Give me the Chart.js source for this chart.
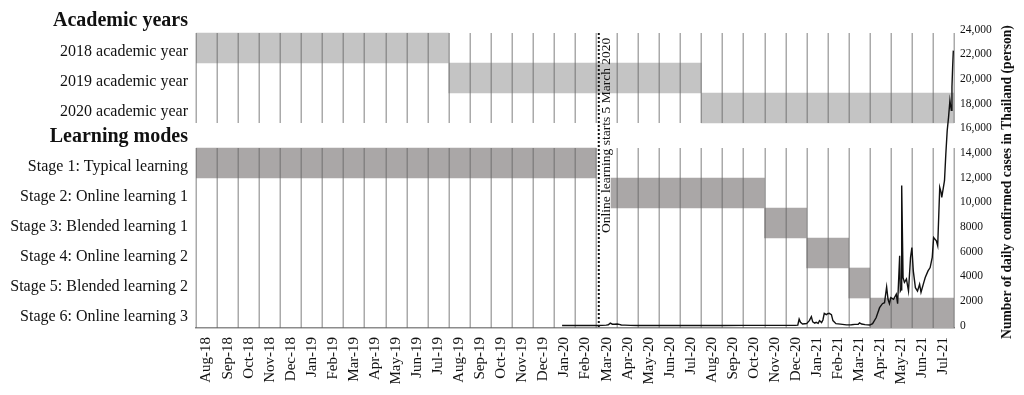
<!DOCTYPE html>
<html>
<head>
<meta charset="utf-8">
<script src="https://cdn.jsdelivr.net/npm/chart.js@4.4.1/dist/chart.umd.min.js"></script>
<style>
  html, body { margin: 0; padding: 0; background: #fff; }
  #wrap { width: 1024px; height: 395px; }
</style>
</head>
<body>
<div id="wrap"><canvas id="chart" width="1024" height="395"></canvas></div>
<script>
// ---- data ----
const months = ['Aug-18','Sep-18','Oct-18','Nov-18','Dec-18','Jan-19','Feb-19','Mar-19','Apr-19','May-19','Jun-19','Jul-19',
  'Aug-19','Sep-19','Oct-19','Nov-19','Dec-19','Jan-20','Feb-20','Mar-20','Apr-20','May-20','Jun-20','Jul-20',
  'Aug-20','Sep-20','Oct-20','Nov-20','Dec-20','Jan-21','Feb-21','Mar-21','Apr-21','May-21','Jun-21','Jul-21'];

const groupTitles = ['Academic years', 'Learning modes'];

const academicRows  = ['2018 academic year', '2019 academic year', '2020 academic year'];
const academicStart = ['2018-08-01', '2019-08-01', '2020-08-01'];
const academicEnd   = ['2019-08-01', '2020-08-01', '2021-08-01'];

const stageRows  = ['Stage 1: Typical learning', 'Stage 2: Online learning 1', 'Stage 3: Blended learning 1',
  'Stage 4: Online learning 2', 'Stage 5: Blended learning 2', 'Stage 6: Online learning 3'];
const stageStart = ['2018-08-01', '2020-03-23', '2020-11-01', '2021-01-01', '2021-03-01', '2021-04-01'];
const stageEnd   = ['2020-03-01', '2020-11-01', '2021-01-01', '2021-03-01', '2021-04-01', '2021-08-01'];

const eventDate  = '2020-03-05';
const eventLabel = 'Online learning starts 5 March 2020';

const caseDates = ['2020-01-13','2020-01-31','2020-02-15','2020-03-01','2020-03-10','2020-03-16','2020-03-19','2020-03-22',
  '2020-03-25','2020-03-28','2020-04-01','2020-04-04','2020-04-07','2020-04-12','2020-04-20','2020-05-01','2020-06-01',
  '2020-07-01','2020-08-01','2020-09-01','2020-10-01','2020-11-01','2020-12-01','2020-12-15','2020-12-19','2020-12-21',
  '2020-12-23','2020-12-26','2020-12-29','2021-01-01','2021-01-05','2021-01-08','2021-01-10','2021-01-13','2021-01-15',
  '2021-01-18','2021-01-20','2021-01-23','2021-01-25','2021-01-27','2021-01-30','2021-02-01','2021-02-03','2021-02-06',
  '2021-02-08','2021-02-12','2021-02-18','2021-02-26','2021-03-05','2021-03-10','2021-03-15','2021-03-17','2021-03-20',
  '2021-03-25','2021-04-01','2021-04-05','2021-04-10','2021-04-15','2021-04-19','2021-04-22','2021-04-25','2021-04-27',
  '2021-04-29','2021-05-01','2021-05-05','2021-05-09','2021-05-11','2021-05-14','2021-05-15','2021-05-16','2021-05-17',
  '2021-05-19','2021-05-21','2021-05-24','2021-05-27','2021-05-30','2021-06-01','2021-06-03','2021-06-06','2021-06-09',
  '2021-06-12','2021-06-14','2021-06-18','2021-06-20','2021-06-24','2021-06-27','2021-06-30','2021-07-02','2021-07-06',
  '2021-07-08','2021-07-11','2021-07-13','2021-07-14','2021-07-18','2021-07-20','2021-07-22','2021-07-24','2021-07-26',
  '2021-07-28','2021-07-29','2021-07-30','2021-07-31'];
const caseValues = [1,2,1,2,10,35,60,190,
  110,110,120,90,40,30,15,6,3,
  5,5,8,10,10,12,15,30,520,
  260,120,140,150,400,720,300,200,260,
  180,400,240,450,990,880,960,990,880,
  400,150,110,50,60,90,100,220,120,
  70,40,150,630,1450,1770,1850,3130,2130,
  1770,2260,2130,2540,1770,5650,2800,2900,11350,
  3890,3500,3770,2800,5520,6330,4430,3070,2800,
  3350,2700,3500,3890,4430,4700,5520,7140,6870,
  6470,11210,10800,10400,11750,13950,15820,16900,18260,
  17450,19350,20970,22300];

const caseTicks = [0, 2000, 4000, 6000, 8000, 10000, 12000, 14000, 16000, 18000, 20000, 22000, 24000];
const caseTickLabels = ['0','2000','4000','6000','8000','10,000','12,000','14,000','16,000','18,000','20,000','22,000','24,000'];

// ---- helpers ----
function monthPos(s) {
  const [y, m, d] = s.split('-').map(Number);
  const dim = new Date(y, m, 0).getDate();
  return (y - 2018) * 12 + (m - 8) + (d - 1) / dim;
}

// row slots (one slot = one row height); stage block sits below a header gap
const STAGE_TOP = 3.8333;
const LABEL_SHIFT = 0.12;
const academicSlot = i => i + 0.5;
const stageSlot = i => STAGE_TOP + i + 0.5;

const barData = [];
const barColors = [];
academicRows.forEach((r, i) => {
  barData.push({ y: academicSlot(i), x: [monthPos(academicStart[i]), monthPos(academicEnd[i])] });
  barColors.push('#c4c4c4');
});
stageRows.forEach((r, i) => {
  barData.push({ y: stageSlot(i), x: [monthPos(stageStart[i]), monthPos(stageEnd[i])] });
  barColors.push('#aaa7a7');
});

const lineData = caseDates.map((d, i) => ({ x: monthPos(d), y: caseValues[i] }));

// left labels: headers + rows
const leftLabels = [groupTitles[0], ...academicRows, groupTitles[1], ...stageRows];
const leftSlots = [-0.42, ...academicRows.map((r, i) => academicSlot(i) + LABEL_SHIFT),
  3.45, ...stageRows.map((r, i) => stageSlot(i) + LABEL_SHIFT)];
const isHeader = l => groupTitles.includes(l);

const SERIF = "'Liberation Serif', 'Times New Roman', serif";

// no extra edge padding for any axis, so the plot area is exactly where we want it
const noPad = s => { s.paddingTop = 0; s.paddingBottom = 0; s.paddingLeft = 0; s.paddingRight = 0; };

const overlay = {
  id: 'overlay',
  afterDatasetDraw(chart, args) {
    if (args.meta.type !== 'bar') return;
    const ctx = chart.ctx, xs = chart.scales.x, ys = chart.scales.yr;
    const blocks = [[0, academicRows.length], [STAGE_TOP, STAGE_TOP + stageRows.length]];
    ctx.save();
    ctx.strokeStyle = 'rgba(100,100,100,0.55)';
    ctx.lineWidth = 1.5;
    for (let i = 0; i <= months.length; i++) {
      const px = Math.round(xs.getPixelForValue(i)) + 0.25;
      blocks.forEach(([a, b]) => {
        ctx.beginPath();
        ctx.moveTo(px, ys.getPixelForValue(a));
        ctx.lineTo(px, ys.getPixelForValue(b));
        ctx.stroke();
      });
    }
    ctx.restore();
  },
  afterDraw(chart) {
    const ctx = chart.ctx, xs = chart.scales.x, ys = chart.scales.yr;
    const ex = xs.getPixelForValue(monthPos(eventDate));
    ctx.save();
    ctx.strokeStyle = '#111';
    ctx.lineWidth = 2;
    ctx.setLineDash([2, 2]);
    ctx.beginPath();
    ctx.moveTo(ex, ys.getPixelForValue(0));
    ctx.lineTo(ex, ys.getPixelForValue(STAGE_TOP + stageRows.length));
    ctx.stroke();
    ctx.setLineDash([]);

    ctx.fillStyle = '#111';
    ctx.font = '13.5px ' + SERIF;
    ctx.textAlign = 'left';
    ctx.textBaseline = 'middle';
    ctx.translate(ex + 8, 233);
    ctx.rotate(-Math.PI / 2);
    ctx.fillText(eventLabel, 0, 0);
    ctx.restore();

    ctx.save();
    ctx.fillStyle = '#111';
    ctx.font = 'bold 13.6px ' + SERIF;
    ctx.textAlign = 'center';
    ctx.textBaseline = 'middle';
    ctx.translate(1007, 182);
    ctx.rotate(-Math.PI / 2);
    ctx.fillText('Number of daily confirmed cases in Thailand (person)', 0, 0);
    ctx.restore();
  }
};

new Chart(document.getElementById('chart'), {
  type: 'bar',
  data: {
    datasets: [
      {
        type: 'bar',
        indexAxis: 'y',
        data: barData,
        xAxisID: 'x',
        yAxisID: 'yr',
        backgroundColor: barColors,
        borderWidth: 0,
        barPercentage: 1,
        categoryPercentage: 1,
        order: 2
      },
      {
        type: 'line',
        data: lineData,
        xAxisID: 'x',
        yAxisID: 'yc',
        borderColor: '#111',
        borderWidth: 1.4,
        pointRadius: 0,
        tension: 0,
        order: 1
      }
    ]
  },
  options: {
    responsive: false,
    animation: false,
    devicePixelRatio: 1,
    layout: { padding: { top: 5, left: 0, right: 0, bottom: 0 } },
    plugins: { legend: { display: false }, tooltip: { enabled: false } },
    scales: {
      x: { type: 'linear', display: false, offset: false, min: 0, max: months.length },
      xm: {
        type: 'category',
        position: 'bottom',
        labels: months,
        offset: true,
        grid: { display: false, drawTicks: false },
        border: { display: true, color: '#8c8c8c', width: 1.5 },
        ticks: {
          autoSkip: false, minRotation: 90, maxRotation: 90, padding: 9,
          color: '#111', font: { family: SERIF, size: 15 }
        },
        afterFit: s => { s.height = 67; noPad(s); }
      },
      yr: {
        type: 'linear', display: false, offset: false, reverse: true, min: -0.9333, max: 9.8333,
        afterBuildTicks: s => { s.ticks = []; }
      },
      yl: {
        type: 'linear', position: 'left', offset: false, reverse: true, min: -0.9333, max: 9.8333,
        grid: { display: false, drawTicks: false },
        border: { display: false },
        afterBuildTicks: s => { s.ticks = leftSlots.map(v => ({ value: v })); },
        ticks: {
          autoSkip: false, padding: 8, color: '#111',
          callback: (v, i) => leftLabels[i],
          font: ctx => isHeader(leftLabels[ctx.index])
            ? { family: SERIF, size: 20, weight: 'bold' }
            : { family: SERIF, size: 16 }
        },
        afterFit: s => { s.width = 196; noPad(s); }
      },
      yc: {
        type: 'linear', position: 'right', offset: false, min: -200, max: 26000,
        grid: { display: false, drawTicks: false },
        border: { display: false },
        afterBuildTicks: s => { s.ticks = caseTicks.map(v => ({ value: v })); },
        ticks: {
          autoSkip: false, padding: 6, color: '#111',
          callback: (v, i) => caseTickLabels[i],
          font: { family: SERIF, size: 11.5 }
        },
        afterFit: s => { s.width = 70; noPad(s); }
      }
    }
  },
  plugins: [overlay]
});
</script>
</body>
</html>
